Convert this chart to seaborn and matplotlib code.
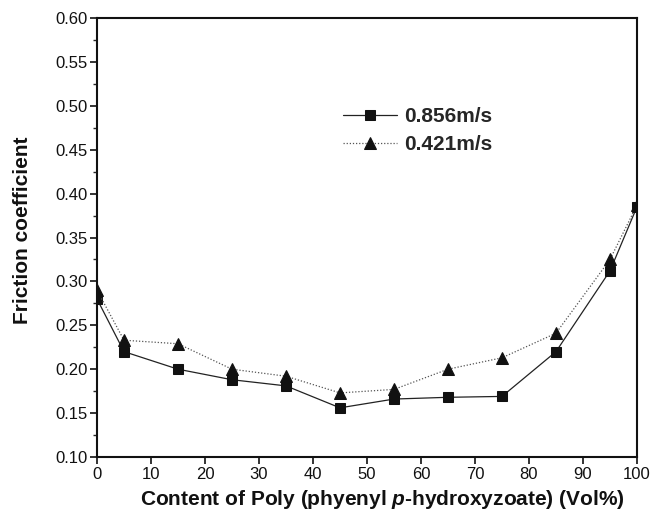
import matplotlib
matplotlib.use("Agg")
import matplotlib.pyplot as plt
import seaborn as sns
import pandas as pd
from matplotlib.ticker import AutoMinorLocator

content = [0, 5, 15, 25, 35, 45, 55, 65, 75, 85, 95, 100]
fast = [0.280, 0.220, 0.200, 0.188, 0.181, 0.156, 0.166, 0.168, 0.169, 0.220, 0.312, 0.385]
slow = [0.290, 0.233, 0.229, 0.200, 0.192, 0.173, 0.177, 0.200, 0.213, 0.241, 0.325, 0.387]
labels = ["0.856m/s", "0.421m/s"]
yticks = [0.10, 0.15, 0.20, 0.25, 0.30, 0.35, 0.40, 0.45, 0.50, 0.55, 0.60]
xticks = [0, 10, 20, 30, 40, 50, 60, 70, 80, 90, 100]

sns.set_theme(style="ticks")
plt.rcParams['font.family'] = ['Liberation Sans', 'DejaVu Sans']
plt.rcParams['mathtext.fontset'] = 'custom'
plt.rcParams['mathtext.it'] = 'Liberation Sans:italic:bold'
plt.rcParams['mathtext.rm'] = 'Liberation Sans:bold'

fig = plt.figure(figsize=(6.62, 5.17), dpi=100)
ax = fig.add_axes([97/662, 1 - 457/517, (637 - 97)/662, (457 - 18)/517])

df1 = pd.DataFrame({"x": content, "y": fast})
df2 = pd.DataFrame({"x": content, "y": slow})
sns.lineplot(data=df1, x="x", y="y", ax=ax, color="#222222", lw=0.9,
             marker="s", markersize=7, markerfacecolor="#111111",
             markeredgecolor="#111111", label=labels[0])
sns.lineplot(data=df2, x="x", y="y", ax=ax, color="#555555", lw=0.9,
             linestyle=(0, (1, 1.5)), marker="^", markersize=8,
             markerfacecolor="#111111", markeredgecolor="#111111",
             label=labels[1])

ax.set_xlim(0, 100)
ax.set_ylim(0.10, 0.60)
ax.set_xticks(xticks)
ax.set_yticks(yticks)
ax.set_xticklabels([str(v) for v in xticks])
ax.set_yticklabels([f"{v:.2f}" for v in yticks])
ax.yaxis.set_minor_locator(AutoMinorLocator(2))
ax.tick_params(axis="both", which="major", direction="out", length=5, width=1.2,
               labelsize=12, colors="#111111", pad=2)
ax.tick_params(axis="y", which="minor", direction="out", length=3, width=1)
for sp in ax.spines.values():
    sp.set_visible(True)
    sp.set_linewidth(1.5)
    sp.set_color("#111111")

ax.set_xlabel("Content of Poly (phyenyl $\\mathit{p}$-hydroxyzoate) (Vol%)",
              fontsize=15, fontweight="bold", color="#111111")
ax.xaxis.set_label_coords(0.528, -0.07)
ax.set_ylabel("Friction coefficient", fontsize=15, fontweight="bold",
              color="#111111")
ax.yaxis.set_label_coords(-0.12, 0.517)

leg = ax.legend(loc="upper left", bbox_to_anchor=(0.421, 0.84), frameon=False,
                handlelength=2.6, handletextpad=0.35,
                labelspacing=0.45, prop={"weight": "bold", "size": 15})

fig.savefig("out.png", dpi=100)
